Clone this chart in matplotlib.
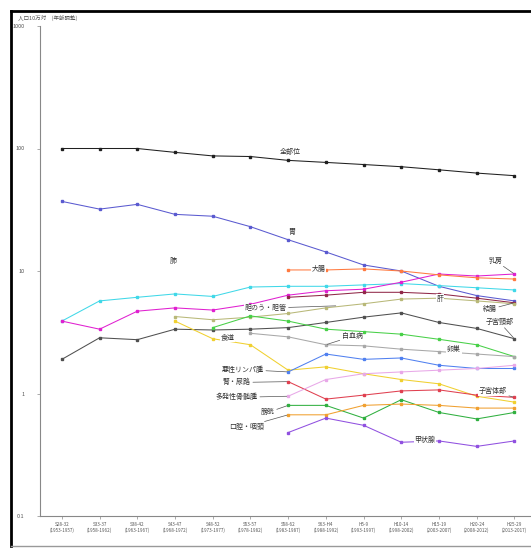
import numpy as np
import matplotlib
matplotlib.use('Agg')
import matplotlib.pyplot as plt
from matplotlib.lines import Line2D
from matplotlib.ticker import NullLocator, FixedLocator

plt.rcParams['font.family'] = ['Noto Sans CJK JP', 'DejaVu Sans']

N = np.nan
periods = ['S28-32', 'S33-37', 'S38-42', 'S43-47', 'S48-52', 'S53-57', 'S58-62',
           'S63-H4', 'H5-9', 'H10-14', 'H15-19', 'H20-24', 'H25-29']
years = ['(1953-1957)', '(1958-1962)', '(1963-1967)', '(1968-1972)', '(1973-1977)',
         '(1978-1982)', '(1983-1987)', '(1988-1992)', '(1993-1997)', '(1998-2002)',
         '(2003-2007)', '(2008-2012)', '(2013-2017)']

# values (log scale)
all_sites = [100, 100, 100, 93, 87, 86, 80, 77, 74, 71, 67, 63, 60]
stomach = [37, 32, 35, 29, 28, 23, 18, 14.3, 11.2, 10, 7.5, 6.3, 5.7]
lung = [3.9, 5.7, 6.1, 6.5, 6.2, 7.4, 7.5, 7.5, 7.7, 7.9, 7.6, 7.3, 7.0]
breast = [3.9, 3.35, 4.7, 5.0, 4.8, 5.35, 6.35, 6.9, 7.1, 8.1, 9.45, 9.1, 9.45]
colorectum = [N, N, N, N, N, N, 10.2, 10.2, 10.4, 10.0, 9.3, 8.8, 8.6]
colon = [N, N, N, N, N, N, 6.1, 6.35, 6.7, 6.7, 6.5, 6.0, 5.5]
uterus = [1.9, 2.85, 2.75, 3.35, 3.3, 3.35, 3.45, 3.8, 4.2, 4.55, 3.8, 3.4, 2.8]
gallbladder = [N, N, N, 4.25, 4.0, 4.2, 4.5, 5.0, 5.4, 5.9, 6.0, 5.7, 5.4]
ovary = [N, N, N, N, 3.45, 4.3, 3.9, 3.35, 3.2, 3.05, 2.77, 2.5, 2.0]
leukemia = [N, N, N, N, N, 3.1, 2.9, 2.5, 2.45, 2.3, 2.2, 2.1, 2.0]
esophagus = [N, N, N, 3.9, 2.8, 2.5, 1.55, 1.65, 1.45, 1.3, 1.2, 0.95, 0.85]
lymphoma = [N, N, N, N, N, N, 1.5, 2.1, 1.9, 1.95, 1.7, 1.6, 1.6]
corpus = [N, N, N, N, N, N, 1.25, 0.9, 0.97, 1.05, 1.07, 0.97, 0.93]
myeloma = [N, N, N, N, N, N, 0.95, 1.3, 1.45, 1.5, 1.55, 1.6, 1.7]
bladder = [N, N, N, N, N, N, 0.8, 0.8, 0.63, 0.89, 0.7, 0.62, 0.7]
oral = [N, N, N, N, N, N, 0.67, 0.67, 0.8, 0.82, 0.8, 0.76, 0.76]
thyroid = [N, N, N, N, N, N, 0.48, 0.63, 0.55, 0.4, 0.41, 0.37, 0.41]

series = [
    (all_sites, '#202020'), (stomach, '#5a5ad0'), (lung, '#40d8e8'),
    (breast, '#e020d0'), (colorectum, '#ff7a40'), (colon, '#902848'),
    (uterus, '#505050'), (gallbladder, '#b8b878'), (ovary, '#48d048'),
    (leukemia, '#a8a8a8'), (esophagus, '#f0d030'), (lymphoma, '#5080f0'),
    (corpus, '#e04050'), (myeloma, '#e8a8e8'), (bladder, '#30b040'),
    (oral, '#f0a030'), (thyroid, '#9050e0'),
]

fig = plt.figure(figsize=(5.31, 5.5), dpi=100)
ax = fig.add_axes([40/531, 34/550, 491/531, 490/550])

x = np.arange(len(periods))
for vals, col in series:
    ax.plot(x, vals, color=col, lw=0.75, marker='s', ms=1.9, mec=col, mfc=col)

ax.set_yscale('log')
ax.set_ylim(0.1, 1000)
ax.set_xlim(-0.58, 12.44)
ax.yaxis.set_major_locator(FixedLocator([0.1, 1, 10, 100, 1000]))
ax.yaxis.set_minor_locator(NullLocator())
ax.set_yticklabels(['0.1', '1', '10', '100', '1000'], fontsize=4, color='#555555')
ax.set_xticks(x)
ax.set_xticklabels([p + '\n' + y for p, y in zip(periods, years)], fontsize=3.3,
                   color='#555555', linespacing=1.3)
ax.tick_params(axis='both', length=2, width=0.5, color='#888888', pad=2)
ax.tick_params(axis='y', pad=9)
ax.spines['top'].set_visible(False)
ax.spines['right'].set_visible(False)
ax.spines['left'].set_color('#888888')
ax.spines['bottom'].set_color('#888888')

fig.text(18/531, 1 - 18/550, '人口10万対　(年齢調整)', fontsize=4, color='#555555',
         va='center')

def lab(txt, xt, yt, xp=None, yp=None):
    box = dict(boxstyle='square,pad=0.1', fc='white', ec='none')
    if xp is None:
        ax.text(xt, yt, txt, fontsize=5, color='#333333', ha='center', va='center',
                bbox=box)
    else:
        ax.annotate(txt, xy=(xp, yp), xytext=(xt, yt), fontsize=5, color='#333333',
                    ha='center', va='center', bbox=box,
                    arrowprops=dict(arrowstyle='-', lw=0.5, color='#555555',
                                    shrinkA=1, shrinkB=1))

lab('全部位', 6.05, 94)
lab('胃', 6.1, 21)
lab('肺', 2.95, 12.1)
lab('大腸', 6.8, 10.4)
lab('胆のう・胆管', 5.4, 4.97, 7.3, 5.2)
lab('白血病', 7.7, 2.93, 7.0, 2.5)
lab('食道', 4.4, 2.88)
lab('悪性リンパ腫', 4.8, 1.57, 6, 1.5)
lab('腎・尿路', 4.64, 1.23, 6, 1.25)
lab('多発性骨髄腫', 4.64, 0.93, 6, 0.95)
lab('膀胱', 5.46, 0.70, 6, 0.8)
lab('口腔・咽頭', 4.9, 0.537, 6, 0.67)
lab('乳房', 11.5, 12.1, 12, 9.45)
lab('肝', 10.03, 5.9)
lab('結腸', 11.35, 4.88, 12, 5.5)
lab('子宮頸部', 11.6, 3.83, 12, 2.8)
lab('卵巣', 10.4, 2.29)
lab('子宮体部', 11.43, 1.04, 12, 0.93)
lab('甲状腺', 9.63, 0.42)

# outer frame
fig.add_artist(Line2D([11/531, 11/531], [4/550, 1 - 11/550], transform=fig.transFigure,
                      color='black', lw=2))
fig.add_artist(Line2D([11/531, 1], [1 - 11/550, 1 - 11/550], transform=fig.transFigure,
                      color='black', lw=2))
fig.add_artist(Line2D([11/531, 1], [4/550, 4/550], transform=fig.transFigure,
                      color='#999999', lw=1))

fig.savefig('out.png', dpi=100)
